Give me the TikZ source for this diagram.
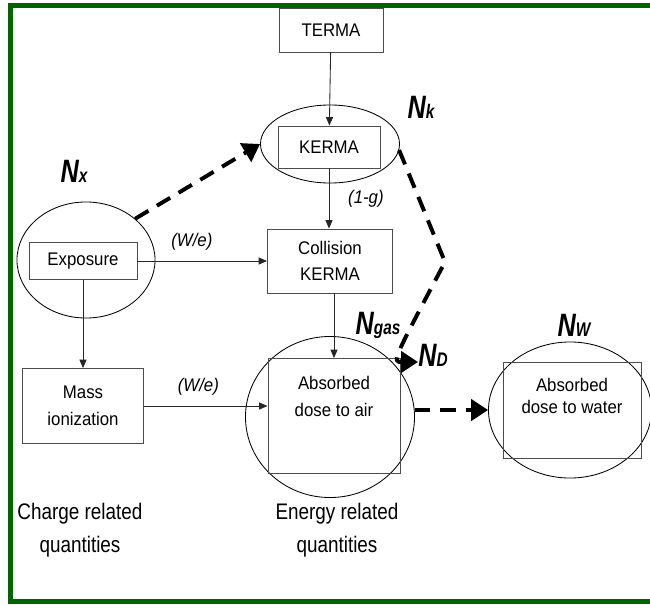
\documentclass[tikz,border=0pt]{standalone}
\usepackage{fontspec}
\setmainfont{Liberation Sans}[FakeStretch=0.92]
\newfontfamily\narrowfont{Liberation Sans}[FakeStretch=0.84]
\newfontfamily\quantfont{Liberation Sans}[FakeStretch=0.78]
\usetikzlibrary{shapes.geometric, arrows.meta}
\definecolor{framegreen}{RGB}{0,100,0}
\newcommand{\Nlab}[1]{{\quantfont\bfseries\itshape\fontsize{23}{23}\selectfont N{\fontsize{14}{14}\selectfont #1}}}
\tikzset{
    box/.style={
        rectangle,
        draw=black!70,
        line width=0.6pt,
        inner sep=0pt,
        align=center,
        font=\fontsize{13}{19}\selectfont
    },
    ring/.style={ellipse, draw, line width=0.6pt, inner sep=0pt},
    link/.style={draw=black!85, line width=0.6pt, -{Triangle[length=6pt,width=5pt]}},
    flow/.style={line width=2.8pt, dash pattern=on 11pt off 7pt, -{Triangle[length=12pt,width=15pt]}},
    tag/.style={font=\fontsize{13}{14}\selectfont\itshape},
    side/.style={align=center, font=\narrowfont\fontsize{16}{23.5}\selectfont},
}

\begin{document}
\begin{tikzpicture}[x=0.025cm, y=-0.025cm]
    \clip (0,0) rectangle (650,605);
    \fill[white] (0,0) rectangle (650,605);
    \draw[framegreen, line width=3.6pt] (10.5,5.5) rectangle (670,601.5);

    \node[box, minimum width=2.6cm, minimum height=1.1cm]     (terma)     at (331,30)  {TERMA};
    \node[ring, minimum width=3.475cm, minimum height=1.95cm] (kermaring) at (330,144) {};
    \node[box, minimum width=2.55cm, minimum height=1.05cm]   (kerma)     at (329,147) {KERMA};
    \node[ring, minimum width=3.45cm, minimum height=2.9cm]   (exporing)  at (86,260)  {};
    \node[box, minimum width=2.7cm, minimum height=0.925cm]   (expo)      at (83,261)  {Exposure};
    \node[box, minimum width=3.125cm, minimum height=1.6cm]   (coll)      at (330,261) {Collision\\KERMA};
    \node[box, minimum width=3.025cm, minimum height=1.875cm] (mass)      at (83,406)  {Mass\\ionization};
    \node[ring, minimum width=4.225cm, minimum height=4.025cm] (airring)  at (330,417) {};
    \node[box, minimum width=3.3cm, minimum height=2.875cm,
          label={[box, draw=none, yshift=14pt]center:Absorbed\\dose to air}] (air) at (334,416) {};
    \node[ring, minimum width=4.075cm, minimum height=3.4cm]  (waterring) at (570,410) {};
    \node[box, minimum width=3.45cm, minimum height=2.4cm,
          label={[box, draw=none, yshift=10pt, font=\fontsize{13}{15}\selectfont]center:Absorbed\\dose to water}] (water) at (572,410) {};

    \node (nx)   at (74,171)  {\Nlab{x}};
    \node (nk)   at (421,107) {\Nlab{k}};
    \node (ngas) at (378,325) {\Nlab{gas}};
    \node (nd)   at (433,355) {\Nlab{D}};
    \node (nw)   at (574,325) {\Nlab{W}};

    \node[side] (charge) at (80,530)  {Charge related\\quantities};
    \node[side] (energy) at (337,530) {Energy related\\quantities};

    \coordinate (bend)  at (445,262);
    \coordinate (ndtip) at (418,362);

    \draw[link] (terma) -- (kerma);
    \draw[link] (kerma.south) -- node[tag, right=10pt] {(1-g)} (kerma.south |- coll.north);
    \draw[link] (expo.east) -- node[tag, above=4pt, pos=.42] {(W/e)} (coll.west);
    \draw[link] (expo.south) -- (mass.north);
    \draw[link] (coll.south -| air.north) -- (air.north);
    \draw[link] (mass.east) -- node[tag, above=4pt, pos=.44] {(W/e)} (mass.east -| air.west);
    \draw[flow] (exporing.40) -- (kermaring.west);
    \draw[flow] (kermaring.-5) -- (bend) .. controls (392,362) .. (ndtip);
    \draw[flow] (airring.east |- waterring.west) -- (waterring.west);
\end{tikzpicture}
\end{document}
